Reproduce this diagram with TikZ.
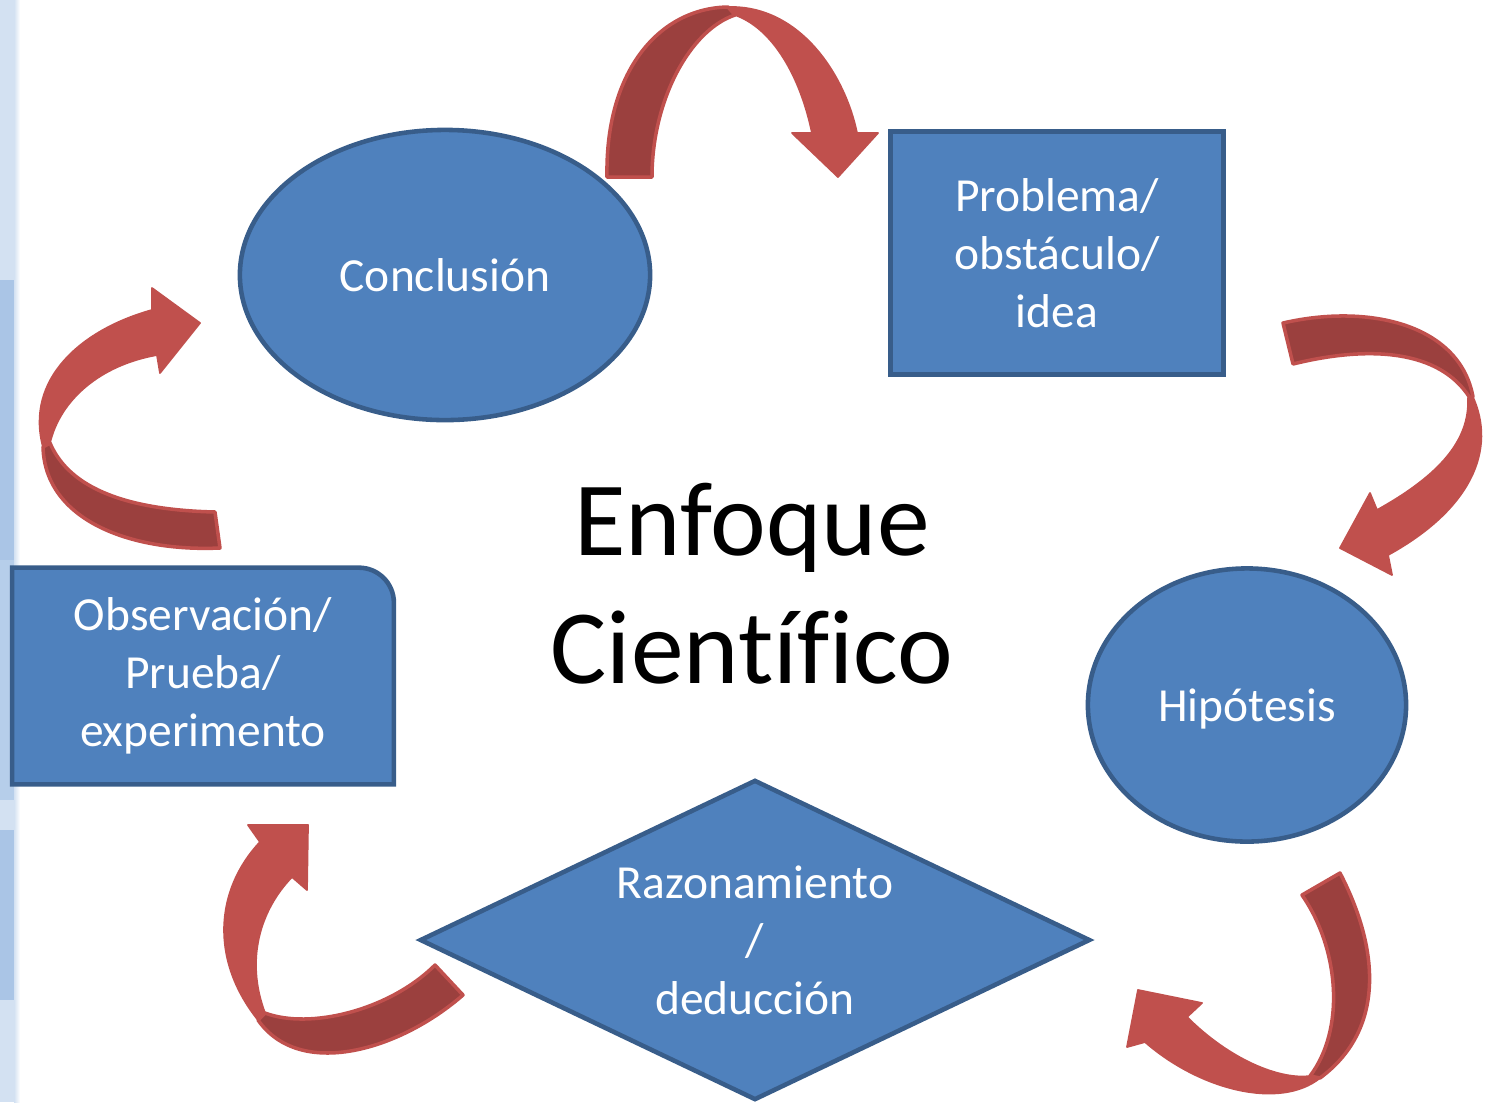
\documentclass[tikz,border=0pt]{standalone}
\usepackage{fontspec}
\setmainfont{Carlito}[Ligatures=NoCommon]
\usetikzlibrary{shapes.geometric,backgrounds}
\definecolor{boxblue}{HTML}{4F81BD}
\definecolor{boxedge}{HTML}{385D8A}
\definecolor{arrowred}{HTML}{C0504D}
\definecolor{arrowdark}{HTML}{9B403E}
\definecolor{stripblue}{HTML}{D3E1F2}
\definecolor{stripdark}{HTML}{AAC5E6}
\tikzset{
  stage/.style={fill=boxblue, draw=boxedge, line width=1.3pt, text=white, align=center,
    inner sep=0pt, font=\fontsize{13.5}{16.5}\selectfont},
  face/.style={fill=arrowred, draw=arrowred, line width=0.5pt, line join=round},
  back/.style={fill=arrowdark, draw=arrowred, line width=1pt, line join=round},
}
\begin{document}
\begin{tikzpicture}[x=0.01cm, y=-0.01cm]
\useasboundingbox (0,0) rectangle (1496,1102);

\node[stage, ellipse, minimum width=4.1cm, minimum height=2.9cm] (concl) at (445,275) {Conclusión};
\node[stage, rectangle, minimum width=3.33cm, minimum height=2.43cm] (prob) at (1057,253) {Problema/\\obstáculo/\\idea};
\node[stage, ellipse, text depth=0pt, minimum width=3.18cm, minimum height=2.73cm] (hip) at (1247,705) {Hipótesis};
\node[stage, diamond, aspect=2.1, minimum width=6.7cm, minimum height=3.2cm] (razon) at (755,940) {Razonamiento\\/\\deducción};
\node[stage, rectangle, draw=none, fill=none, minimum width=3.77cm, minimum height=2.12cm] (obs) at (203,676) {Observación/\\Prueba/\\experimento};
\node[font=\fontsize{30}{36.4}\selectfont, align=center] (title) at (752,584) {Enfoque\\Científico};

\begin{scope}[on background layer]
  \fill[stripblue] (0,0) rectangle (18,1102);
  \fill[stripdark] (0,280) rectangle (18,560);
  \fill[stripdark!70!stripblue] (0,560) rectangle (18,800);
  \fill[stripdark] (0,830) rectangle (18,1000);
  \shade[left color=stripblue, right color=white] (14,0) rectangle (20,1102);
  \draw[stage] (obs.south west) -- (obs.north west) [rounded corners=0.35cm] -- (obs.north east) [sharp corners] -- (obs.south east) -- cycle;
\end{scope}

% concl -> prob
\draw[face] (728,7) .. controls (800,5) and (845,75) .. (857,133) -- (878,133) -- (838,177) -- (792,133) -- (812,133) .. controls (800,75) and (772,28) .. (735,15) -- cycle;
\draw[back] (607,177) .. controls (605,70) and (660,8) .. (728,7) -- (735,15) .. controls (690,30) and (652,100) .. (652,177) -- cycle;
% prob -> hip
\draw[face] (1472,395) .. controls (1498,450) and (1470,510) .. (1388,555) -- (1392,575) -- (1340,548) -- (1370,493) -- (1377,510) .. controls (1440,475) and (1470,440) .. (1468,398) -- cycle;
\draw[back] (1283,323) .. controls (1370,303) and (1460,325) .. (1473,397) -- (1470,398) .. controls (1440,350) and (1370,345) .. (1293,364) -- cycle;
% hip -> razon
\draw[face] (1320,1078) .. controls (1280,1110) and (1200,1090) .. (1145,1042) -- (1127,1047) -- (1138,990) -- (1202,1003) -- (1187,1017) .. controls (1230,1060) and (1280,1080) .. (1310,1076) -- cycle;
\draw[back] (1340,873) .. controls (1380,950) and (1385,1030) .. (1320,1078) -- (1310,1076) .. controls (1345,1030) and (1340,950) .. (1302,895) -- cycle;
% razon -> obs
\draw[face] (258,1020) .. controls (210,960) and (215,890) .. (260,842) -- (248,825) -- (308,825) -- (307,890) -- (292,877) .. controls (260,910) and (245,960) .. (265,1013) -- cycle;
\draw[back] (463,995) .. controls (400,1050) and (300,1080) .. (258,1020) -- (265,1013) .. controls (310,1030) and (390,1010) .. (435,965) -- cycle;
% obs -> concl
\draw[face] (43,447) .. controls (25,380) and (80,330) .. (152,310) -- (152,288) -- (200,323) -- (160,373) -- (157,355) .. controls (100,365) and (60,400) .. (50,443) -- cycle;
\draw[back] (220,548) .. controls (130,552) and (45,520) .. (43,447) -- (50,443) .. controls (70,490) and (130,510) .. (215,512) -- cycle;
\end{tikzpicture}
\end{document}
